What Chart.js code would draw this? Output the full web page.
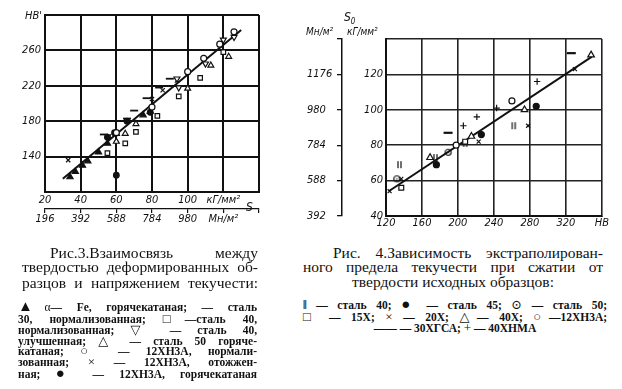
<!DOCTYPE html>
<html>
<head>
<meta charset="utf-8">
<script src="https://cdn.jsdelivr.net/npm/chart.js@4.4.1/dist/chart.umd.min.js"></script>
<style>
body{margin:0;background:#fff;width:622px;height:389px;position:relative;overflow:hidden;color:#111}
canvas{position:absolute}
.lbl{position:absolute;font-family:"Liberation Sans Narrow","DejaVu Sans Condensed",sans-serif;font-style:italic;font-size:11px;white-space:nowrap}
.cap{position:absolute;font-family:"Liberation Serif","DejaVu Serif",serif;font-size:15.5px;line-height:15px;text-align:justify;text-align-last:justify}
.leg{position:absolute;font-family:"Liberation Serif","DejaVu Serif",serif;font-weight:bold;font-size:11.5px;line-height:12px;text-align:justify;text-align-last:justify}
.c{text-align:center;text-align-last:center}
.s{font-size:13px;font-weight:normal}
.b{font-size:15px;font-weight:normal;line-height:10px}
</style>
</head>
<body>
<canvas id="fig3" width="270" height="232" style="left:0;top:0"></canvas>
<canvas id="fig4" width="310" height="232" style="left:300px;top:0"></canvas>

<div class="lbl" style="left:25px;top:9px">НВ'</div>
<div class="lbl" style="left:246px;top:200px;font-size:12px">S</div>
<div class="lbl" style="left:344px;top:10px;font-size:12px">S<sub style="font-size:8px">0</sub></div>
<div class="lbl" style="left:306px;top:26px;font-size:10px">Мн/м²</div>
<div class="lbl" style="left:347px;top:26px;font-size:10px">кГ/мм²</div>

<div class="cap" style="left:50px;top:245px;width:208px">Рис.3.Взаимосвязь между</div>
<div class="cap" style="left:22px;top:259px;width:236px">твердостью деформированных об-</div>
<div class="cap" style="left:22px;top:274.5px;width:236px">разцов и напряжением текучести:</div>
<div class="leg" style="left:18px;top:301.4px;width:239px"><span class="b">▲</span><span style="font-weight:normal">α</span>— Fe, горячекатаная; — сталь</div>
<div class="leg" style="left:18px;top:313.1px;width:239px">30, нормализованная; <span class="s">□</span>—сталь 40,</div>
<div class="leg" style="left:18px;top:324.1px;width:239px">нормализованная; <span class="s">▽</span> — сталь 40,</div>
<div class="leg" style="left:18px;top:334.8px;width:239px">улучшенная; <span class="s">△</span> — сталь 50 горяче-</div>
<div class="leg" style="left:18px;top:345.4px;width:239px">катаная; <span class="s">○</span> — 12ХН3А, нормали-</div>
<div class="leg" style="left:18px;top:356.4px;width:239px">зованная; <span class="s">×</span> — 12ХН3А, отожжен-</div>
<div class="leg" style="left:18px;top:368.1px;width:239px">ная; <span class="b">●</span> — 12ХН3А, горячекатаная</div>

<div class="cap" style="left:333px;top:245px;width:270px">Рис. 4.Зависимость экстраполирован-</div>
<div class="cap" style="left:303px;top:258.5px;width:300px">ного предела текучести при сжатии от</div>
<div class="cap c" style="left:303px;top:273.5px;width:300px">твердости исходных образцов:</div>
<div class="leg" style="left:303px;top:299.1px;width:304px">‖ — сталь 40; <span class="b">●</span> — сталь 45; <span class="s">⊙</span> — сталь 50;</div>
<div class="leg" style="left:303px;top:310.8px;width:304px"><span class="s">□</span> — 15Х; <span class="s">×</span> — 20Х; <span class="s">△</span>— 40Х; <span class="s">○</span>—12ХН3А;</div>
<div class="leg c" style="left:303px;top:321.8px;width:304px">—— — 30ХГСА; <span class="s">+</span> — 40ХНМА</div>

<script>
// Рис.3 : HB' vs S (кГ/мм2)
var fig3Ticks = [20, 40, 60, 80, 100, 120, 140];
var fig3FitX = [30, 130];
var fig3FitY = [115, 283];
var fig3AlphaFe = [[34,117],[37,123],[41,130],[44,135],[50,145],[55,155],[60,166],[75,187],[79,191]];
var fig3Steel30 = [[53,165],[66,183],[70,192],[77,206],[84,218],[90,228]];
var fig3Steel40n = [[55,144],[65,155],[71,168],[83,186],[95,208],[107,229],[120,258]];
var fig3Steel40u = [[94,228],[95,218],[110,245],[120,272],[126,275]];
var fig3Steel50 = [[60,157],[65,166],[71,177],[100,217],[113,243],[123,253]];
var fig3HN3Anorm = [[60,167],[80,196],[100,236],[109,251],[118,267],[126,281]];
var fig3HN3Aotzh = [[33,136],[56,163],[80,205],[86,215],[94,226]];
var fig3HN3Agor = [[55,162],[59,167],[66,180],[79,190],[60,119]];

// Рис.4 : S0 vs HB
var fig4FitX = [123, 349];
var fig4FitY = [54, 130];
var fig4Steel40 = [[135,69],[175,73],[208,81],[262,91]];
var fig4Steel45 = [[176,69],[226,86],[287,102]];
var fig4Steel50 = [[132,61],[189,76]];
var fig4X15 = [[137,56],[208,82]];
var fig4X20 = [[124,54],[137,61],[223,82],[278,91],[330,123]];
var fig4X40 = [[169,73],[215,85],[274,100],[348,131]];
var fig4HN3A = [[198,80],[260,105]];
var fig4HGSA = [[189,87],[326,132]];
var fig4HNMA = [[206,91],[221,96],[243,101],[288,116]];

var ink = '#111';
var tickFont = {family: '"Liberation Sans Narrow","DejaVu Sans Condensed",sans-serif', style: 'italic', size: 11};

function pts(arr){
    return arr.map(p => ({x: p[0], y: p[1]}));
}
function fitPts(xs, ys){
    return xs.map((v, i) => ({x: v, y: ys[i]}));
}
function mark(kind){
    var c = document.createElement('canvas');
    c.width = 9; c.height = 9;
    var g = c.getContext('2d');
    g.strokeStyle = ink; g.fillStyle = ink; g.lineWidth = 1.2;
    g.beginPath();
    if(kind == 'pipes'){
        g.moveTo(3, 1); g.lineTo(3, 8);
        g.moveTo(6, 1); g.lineTo(6, 8);
        g.stroke();
    }else{
        g.arc(4.5, 4.5, 3, 0, Math.PI*2);
        g.stroke();
        g.fillRect(4, 4, 1.2, 1.2);
    }
    return c;
}
function set(data, style, r, fill, extra){
    return Object.assign({
        data: pts(data), pointStyle: style, pointRadius: r,
        pointBackgroundColor: fill, pointBorderColor: ink, pointBorderWidth: 1.2
    }, extra || {});
}
function fitSet(xs, ys){
    return {data: fitPts(xs, ys), showLine: true, borderColor: ink, borderWidth: 2, pointRadius: 0};
}

// keep every caption line on one line
document.querySelectorAll('.cap, .leg').forEach(el => {
    var lh = parseFloat(getComputedStyle(el).lineHeight);
    var fs = parseFloat(getComputedStyle(el).fontSize);
    while(el.offsetHeight > lh * 1.5 && fs > 8){
        fs -= 0.5;
        el.style.fontSize = fs + 'px';
    }
});

var common = {
    responsive: false,
    animation: false,
    events: [],
    plugins: {legend: {display: false}, tooltip: {enabled: false}}
};

new Chart(document.getElementById('fig3'), {
    type: 'scatter',
    data: {datasets: [
        set(fig3HN3Anorm, 'circle', 3, '#fff'),
        set(fig3Steel40n, 'rect', 3.2, '#fff'),
        set(fig3Steel40u, 'triangle', 3.4, '#fff', {rotation: 180}),
        set(fig3Steel50, 'triangle', 3.4, '#fff'),
        set(fig3AlphaFe, 'triangle', 3.6, ink),
        set(fig3HN3Agor, 'circle', 2.8, ink),
        set(fig3HN3Aotzh, 'crossRot', 3, ink),
        set(fig3Steel30, 'line', 4, ink, {pointBorderWidth: 1.8}),
        fitSet(fig3FitX, fig3FitY)
    ]},
    options: Object.assign({}, common, {
        layout: {padding: {top: 15, right: 11, left: 0, bottom: 0}},
        scales: {
            x: {
                type: 'linear', min: fig3Ticks[0], max: fig3Ticks[fig3Ticks.length-1], weight: 0,
                afterBuildTicks: s => { s.ticks = fig3Ticks.map(v => ({value: v})); },
                ticks: {font: tickFont, color: ink, padding: 2, maxRotation: 0, autoSkip: false,
                    callback: v => v == 140 ? '' : (v == 120 ? 'кГ/мм²' : v)},
                grid: {color: ink, lineWidth: 2, tickLength: 0},
                border: {color: ink, width: 2},
                afterFit: s => { s.height = 17; }
            },
            x2: {
                type: 'linear', position: 'bottom', min: fig3Ticks[0], max: fig3Ticks[fig3Ticks.length-1], weight: 10,
                afterBuildTicks: s => { s.ticks = fig3Ticks.map(v => ({value: v})); },
                ticks: {font: tickFont, color: ink, padding: 0, maxRotation: 0, autoSkip: false,
                    callback: v => v == 140 ? '' : (v == 120 ? 'Мн/м²' : Math.round(v*9.8))},
                grid: {drawOnChartArea: false, color: ink, lineWidth: 1.2, tickLength: 4},
                border: {color: ink, width: 1.2},
                afterFit: s => { s.height = 23; }
            },
            y: {
                type: 'linear', min: 100, max: 300,
                ticks: {stepSize: 40, font: tickFont, color: ink, padding: 4,
                    callback: v => (v == 100 || v == 300) ? '' : v},
                grid: {color: ink, lineWidth: 2, tickLength: 0},
                border: {color: ink, width: 2},
                afterFit: s => { s.width = 45; }
            }
        }
    })
});

new Chart(document.getElementById('fig4'), {
    type: 'scatter',
    data: {datasets: [
        set(fig4HN3A, 'circle', 3, '#fff'),
        set(fig4X15, 'rect', 3.4, '#fff'),
        set(fig4X40, 'triangle', 3.8, '#fff'),
        set(fig4Steel45, 'circle', 3, ink),
        set(fig4X20, 'crossRot', 2.8, ink),
        set(fig4HNMA, 'cross', 3.2, ink),
        set(fig4HGSA, 'line', 4.5, ink, {pointBorderWidth: 2.2}),
        set(fig4Steel40, mark('pipes'), 4, ink),
        set(fig4Steel50, mark('dot'), 4, ink),
        fitSet(fig4FitX, fig4FitY)
    ]},
    options: Object.assign({}, common, {
        layout: {padding: {top: 39, right: 8, left: 7, bottom: 0}},
        scales: {
            x: {
                type: 'linear', min: 120, max: 360,
                ticks: {stepSize: 40, font: tickFont, color: ink, padding: 1, maxRotation: 0,
                    callback: v => v == 360 ? 'НВ' : v},
                grid: {color: '#222', lineWidth: 1.6, tickLength: 0},
                border: {color: ink, width: 2},
                afterFit: s => { s.height = 16; }
            },
            y: {
                type: 'linear', min: 40, max: 140, weight: 0,
                ticks: {stepSize: 20, font: tickFont, color: ink, padding: 3,
                    callback: v => v == 140 ? '' : v},
                grid: {color: '#222', lineWidth: 1.6, tickLength: 0},
                border: {color: ink, width: 2},
                afterFit: s => { s.width = 44; }
            },
            y2: {
                type: 'linear', position: 'left', min: 40, max: 140, weight: 10,
                ticks: {stepSize: 20, font: tickFont, color: ink, padding: 8, crossAlign: 'far',
                    callback: v => v == 140 ? '' : Math.round(v*9.8)},
                grid: {drawOnChartArea: false, color: ink, lineWidth: 1.3, tickLength: 5},
                border: {color: ink, width: 1.5},
                afterFit: s => { s.width = 35; }
            }
        }
    })
});
</script>
</body>
</html>
